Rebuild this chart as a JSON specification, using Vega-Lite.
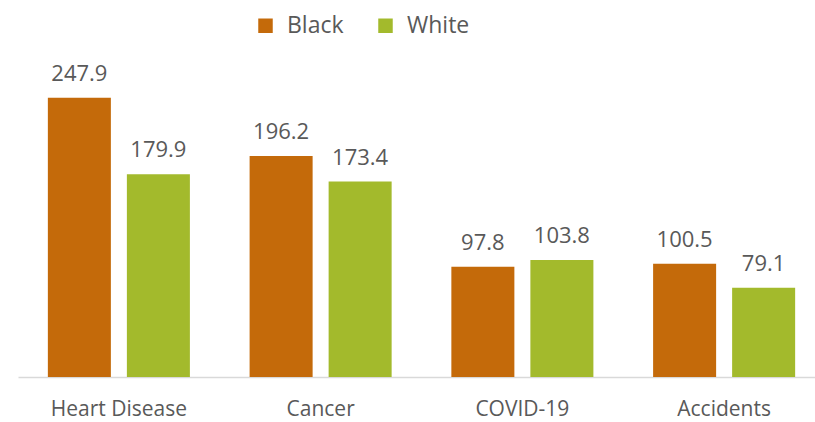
{
  "$schema": "https://vega.github.io/schema/vega-lite/v6.json",
  "width": 807,
  "height": 293,
  "autosize": {"type": "none"},
  "padding": {"left": 18, "top": 84, "right": 0, "bottom": 45},
  "background": "#ffffff",
  "view": {"stroke": null},
  "data": {
    "values": [
      {"cause": "Heart Disease", "race": "Black", "rate": 247.9},
      {"cause": "Heart Disease", "race": "White", "rate": 179.9},
      {"cause": "Cancer", "race": "Black", "rate": 196.2},
      {"cause": "Cancer", "race": "White", "rate": 173.4},
      {"cause": "COVID-19", "race": "Black", "rate": 97.8},
      {"cause": "COVID-19", "race": "White", "rate": 103.8},
      {"cause": "Accidents", "race": "Black", "rate": 100.5},
      {"cause": "Accidents", "race": "White", "rate": 79.1}
    ]
  },
  "encoding": {
    "x": {
      "field": "cause", "type": "nominal", "sort": null,
      "scale": {"paddingInner": 0.296, "paddingOuter": 0.148},
      "axis": {
        "title": null, "labelAngle": 0, "ticks": false,
        "domainColor": "#D9D9D9", "domainWidth": 1.5,
        "labelFont": "Open Sans", "labelFontSize": 21, "labelColor": "#595959",
        "labelPadding": 21
      }
    },
    "xOffset": {
      "field": "race", "type": "nominal", "sort": ["Black", "White"],
      "scale": {"paddingInner": 0.2025, "paddingOuter": 0}
    },
    "y": {
      "field": "rate", "type": "quantitative",
      "scale": {"domain": [0, 260]},
      "axis": null
    }
  },
  "layer": [
    {
      "mark": {"type": "bar"},
      "encoding": {
        "color": {
          "field": "race", "type": "nominal",
          "scale": {"domain": ["Black", "White"], "range": ["#C46A0A", "#A3BA2C"]},
          "legend": {
            "title": null, "orient": "none", "direction": "horizontal",
            "legendX": 236, "legendY": -70,
            "symbolType": "square", "symbolSize": 210, "symbolStrokeWidth": 0,
            "labelFont": "Open Sans", "labelFontSize": 23, "labelColor": "#595959",
            "labelOffset": 10, "columnPadding": 30
          }
        }
      }
    },
    {
      "mark": {"type": "text", "dy": -12, "baseline": "bottom", "font": "Open Sans", "fontSize": 22, "color": "#595959"},
      "encoding": {
        "text": {"field": "rate", "type": "quantitative", "format": ".1f"}
      }
    }
  ]
}
